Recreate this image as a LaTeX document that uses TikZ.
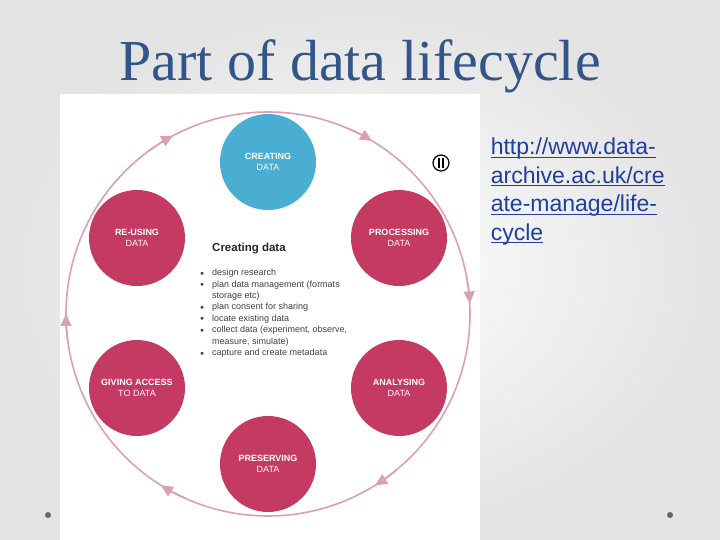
\documentclass[tikz,border=0pt]{standalone}
\usepackage{fontspec}
\setmainfont{Liberation Sans}
\newfontfamily\titlefont{Liberation Serif}
\usetikzlibrary{arrows.meta}
\definecolor{crim}{HTML}{C43A63}
\definecolor{sky}{HTML}{4AAED2}
\definecolor{ring}{HTML}{DCA0B4}
\definecolor{ttl}{HTML}{33558A}
\definecolor{lnk}{HTML}{1F3F9F}
\newcommand{\ul}[1]{\tikz[baseline=(u.base)]{\node[inner sep=0pt](u){#1};\draw[lnk,line width=0.8pt]([yshift=-2.2pt]u.base west)--([yshift=-2.2pt]u.base east);}}
\tikzset{
  stage/.style={circle,minimum size=96pt,inner sep=0pt,fill=crim,text=white,align=center,font=\fontsize{9}{11}\selectfont},
  ringarrow/.style={draw=ring,line width=1.6pt,-{Triangle[length=12pt,width=11pt]}},
}
\begin{document}
\begin{tikzpicture}[x=1pt,y=1pt]
\useasboundingbox (0,0) rectangle (720,540);
\shade[inner color=white,outer color=gray!22] (0,0) rectangle (720,540);
\fill[white] (60,0) rectangle (480,446);
\node (title) [anchor=center,text=ttl,font=\titlefont\fontsize{58}{60}\selectfont] at (360,474) {Part of data lifecycle};
% ring
\coordinate (c) at (268,226);
\draw[draw=ring,line width=1.6pt] (c) circle[radius=202];
\begin{scope}[shift={(268,226)}]
\foreach \a in {118,59,3,-58,-122,180}{
  \draw[ringarrow] (\a+8:202) arc[start angle=\a+8,end angle=\a,radius=202];
}
\end{scope}
\node (cr) [stage,fill=sky] at (268,378) {\textbf{CREATING}\\DATA};
\node (pr) [stage] at (399,302) {\textbf{PROCESSING}\\DATA};
\node (an) [stage] at (399,152) {\textbf{ANALYSING}\\DATA};
\node (ps) [stage] at (268,76) {\textbf{PRESERVING}\\DATA};
\node (gv) [stage] at (137,152) {\textbf{GIVING ACCESS}\\TO DATA};
\node (ru) [stage] at (137,302) {\textbf{RE-USING}\\DATA};
% pause icon
\node (pause) [circle,draw=black,line width=1.2pt,fill=white,minimum size=16pt,inner sep=0pt] at (441,377) {};
\fill (437.8,372) rectangle (440,382);
\fill (442,372) rectangle (444.2,382);
% centre text
\node (head) [anchor=west,inner sep=0pt,font=\bfseries\fontsize{11.5}{13}\selectfont,text=black!85] at (212,291) {Creating data};
\node (list) [anchor=north west,text=black!75,font=\fontsize{9}{11.4}\selectfont,align=left,inner sep=0pt] at (200,271) {%
\makebox[12pt][l]{\raisebox{0.5pt}{\scriptsize$\bullet$}}design research\\
\makebox[12pt][l]{\raisebox{0.5pt}{\scriptsize$\bullet$}}plan data management (formats\\
\hspace*{12pt}storage etc)\\
\makebox[12pt][l]{\raisebox{0.5pt}{\scriptsize$\bullet$}}plan consent for sharing\\
\makebox[12pt][l]{\raisebox{0.5pt}{\scriptsize$\bullet$}}locate existing data\\
\makebox[12pt][l]{\raisebox{0.5pt}{\scriptsize$\bullet$}}collect data (experiment, observe,\\
\hspace*{12pt}measure, simulate)\\
\makebox[12pt][l]{\raisebox{0.5pt}{\scriptsize$\bullet$}}capture and create metadata};
% url
\node (url) [anchor=north west,text=lnk,font=\fontsize{23}{28.5}\selectfont,align=left,inner sep=0pt] at (490,402) {%
\ul{http://www.data-}\\ \ul{archive.ac.uk/cre}\\ \ul{ate-manage/life-}\\ \ul{cycle}};
\fill[gray!80!black] (48,25) circle[radius=3];
\fill[gray!80!black] (670,25) circle[radius=3];
\end{tikzpicture}
\end{document}
